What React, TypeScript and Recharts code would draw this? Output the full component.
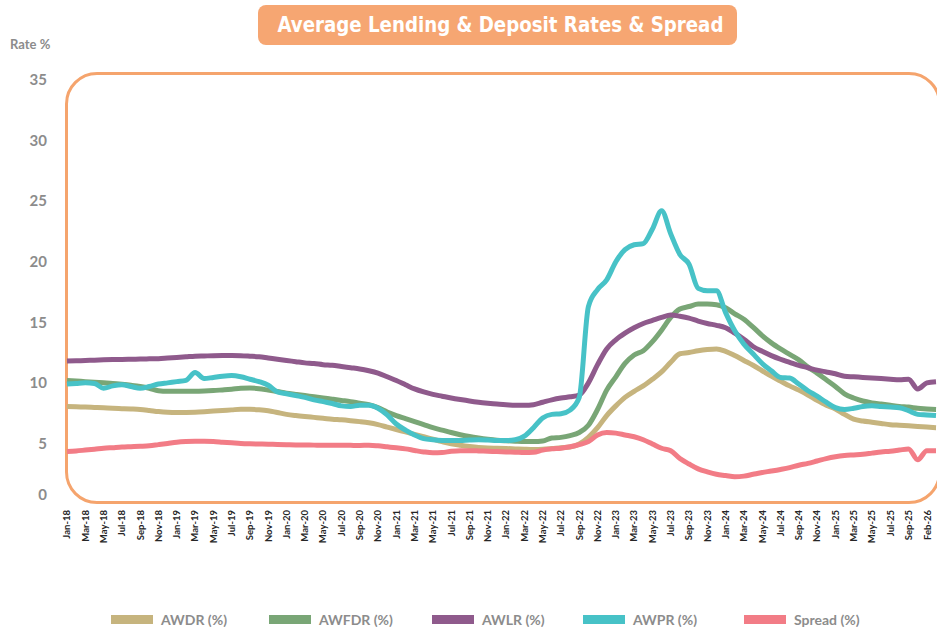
import { LineChart, Line, XAxis, YAxis } from "recharts";

const MONTHS = [
  "Jan-18", "Feb-18", "Mar-18", "Apr-18", "May-18", "Jun-18", "Jul-18", "Aug-18", "Sep-18", "Oct-18", "Nov-18", "Dec-18",
  "Jan-19", "Feb-19", "Mar-19", "Apr-19", "May-19", "Jun-19", "Jul-19", "Aug-19", "Sep-19", "Oct-19", "Nov-19", "Dec-19",
  "Jan-20", "Feb-20", "Mar-20", "Apr-20", "May-20", "Jun-20", "Jul-20", "Aug-20", "Sep-20", "Oct-20", "Nov-20", "Dec-20",
  "Jan-21", "Feb-21", "Mar-21", "Apr-21", "May-21", "Jun-21", "Jul-21", "Aug-21", "Sep-21", "Oct-21", "Nov-21", "Dec-21",
  "Jan-22", "Feb-22", "Mar-22", "Apr-22", "May-22", "Jun-22", "Jul-22", "Aug-22", "Sep-22", "Oct-22", "Nov-22", "Dec-22",
  "Jan-23", "Feb-23", "Mar-23", "Apr-23", "May-23", "Jun-23", "Jul-23", "Aug-23", "Sep-23", "Oct-23", "Nov-23", "Dec-23",
  "Jan-24", "Feb-24", "Mar-24", "Apr-24", "May-24", "Jun-24", "Jul-24", "Aug-24", "Sep-24", "Oct-24", "Nov-24", "Dec-24",
  "Jan-25", "Feb-25", "Mar-25", "Apr-25", "May-25", "Jun-25", "Jul-25", "Aug-25", "Sep-25", "Oct-25", "Nov-25", "Feb-26",
];

const X_TICKS = [
  "Jan-18", "Mar-18", "May-18", "Jul-18", "Sep-18", "Nov-18",
  "Jan-19", "Mar-19", "May-19", "Jul-19", "Sep-19", "Nov-19",
  "Jan-20", "Mar-20", "May-20", "Jul-20", "Sep-20", "Nov-20",
  "Jan-21", "Mar-21", "May-21", "Jul-21", "Sep-21", "Nov-21",
  "Jan-22", "Mar-22", "May-22", "Jul-22", "Sep-22", "Nov-22",
  "Jan-23", "Mar-23", "May-23", "Jul-23", "Sep-23", "Nov-23",
  "Jan-24", "Mar-24", "May-24", "Jul-24", "Sep-24", "Nov-24",
  "Jan-25", "Mar-25", "May-25", "Jul-25", "Sep-25", "Feb-26",
];

const Y_TICKS = [0, 5, 10, 15, 20, 25, 30, 35];

const AWDR = [
  8.05, 8.02, 8.0, 7.97, 7.94, 7.9, 7.87, 7.84, 7.8, 7.72, 7.63, 7.57,
  7.55, 7.56, 7.58, 7.62, 7.67, 7.72, 7.77, 7.82, 7.82, 7.78, 7.7, 7.55,
  7.4, 7.3, 7.22, 7.15, 7.08, 7.0, 6.95, 6.88, 6.8, 6.7, 6.55, 6.35,
  6.15, 5.95, 5.75, 5.55, 5.35, 5.15, 4.97, 4.85, 4.75, 4.67, 4.62, 4.6,
  4.58, 4.55, 4.52, 4.5, 4.52, 4.58, 4.65, 4.7, 4.95, 5.5, 6.3, 7.3,
  8.1, 8.8, 9.3, 9.75, 10.3, 10.9, 11.7, 12.4, 12.5, 12.65, 12.75, 12.8,
  12.6, 12.25, 11.85, 11.45, 11.0, 10.55, 10.15, 9.75, 9.4, 9.0, 8.55, 8.15,
  7.85, 7.4, 7.0, 6.85, 6.75, 6.65, 6.55, 6.5, 6.45, 6.4, 6.35, 6.3,
];

const AWFDR = [
  10.2, 10.15, 10.1, 10.05, 10.0, 9.95, 9.88, 9.8, 9.7, 9.55, 9.35, 9.3,
  9.3, 9.3, 9.3, 9.32, 9.36, 9.42, 9.48, 9.55, 9.58, 9.52, 9.4, 9.28,
  9.15, 9.05, 8.95, 8.85, 8.75, 8.65, 8.55, 8.45, 8.32, 8.2, 7.95, 7.6,
  7.3, 7.05, 6.8, 6.55, 6.3, 6.1, 5.9, 5.72, 5.57, 5.45, 5.35, 5.27,
  5.22, 5.18, 5.15, 5.15, 5.2, 5.45, 5.5, 5.65, 5.9, 6.5, 7.8, 9.4,
  10.5, 11.6, 12.3, 12.65, 13.4, 14.35, 15.4, 16.1, 16.3, 16.5, 16.5, 16.45,
  16.2, 15.7, 15.25, 14.6, 13.9, 13.3, 12.8, 12.35, 11.9, 11.3, 10.8, 10.25,
  9.7, 9.1, 8.75, 8.5, 8.35, 8.25, 8.15, 8.05, 8.0, 7.9, 7.85, 7.8,
];

const AWLR = [
  11.8, 11.82, 11.85, 11.87, 11.9, 11.92, 11.93, 11.95, 11.96, 11.98, 12.0, 12.05,
  12.1, 12.15, 12.2, 12.22, 12.24, 12.25, 12.25, 12.24, 12.2, 12.15, 12.05, 11.95,
  11.85, 11.75, 11.65, 11.6, 11.5, 11.45, 11.35, 11.25, 11.15, 11.0, 10.8, 10.5,
  10.2, 9.85, 9.5, 9.25, 9.05, 8.9, 8.75, 8.62, 8.5, 8.4, 8.32, 8.25,
  8.2, 8.15, 8.15, 8.2, 8.4, 8.6, 8.75, 8.85, 9.0, 10.0, 11.5, 12.8,
  13.55, 14.1, 14.55, 14.9, 15.15, 15.4, 15.6, 15.5, 15.35, 15.1, 14.9, 14.75,
  14.55, 14.1, 13.6, 13.0, 12.6, 12.25, 11.95, 11.7, 11.45, 11.25, 11.05, 10.9,
  10.75, 10.55, 10.5, 10.45, 10.4, 10.35, 10.3, 10.25, 10.3, 9.5, 10.0, 10.1,
];

const AWPR = [
  9.9, 9.95, 10.0, 9.95, 9.55, 9.75, 9.85, 9.7, 9.55, 9.7, 9.9, 10.0,
  10.1, 10.2, 10.85, 10.35, 10.45, 10.55, 10.6, 10.5, 10.3, 10.1, 9.8, 9.25,
  9.1, 8.95, 8.8, 8.6, 8.45, 8.3, 8.1, 8.05, 8.15, 8.15, 7.9, 7.35,
  6.6, 6.1, 5.7, 5.4, 5.3, 5.25, 5.24, 5.25, 5.28, 5.3, 5.28, 5.25,
  5.24, 5.3, 5.6, 6.3, 7.1, 7.4, 7.45, 7.75, 8.8, 16.3, 17.7, 18.5,
  20.0, 21.0, 21.4, 21.5, 22.7, 24.2, 22.3, 20.6, 19.8, 17.8, 17.6, 17.6,
  15.8, 14.3, 13.2, 12.4, 11.6, 11.0, 10.45, 10.4, 9.9, 9.35, 8.9, 8.4,
  7.95, 7.8, 7.9, 8.05, 8.1, 8.05, 8.0, 7.95, 7.7, 7.4, 7.35, 7.3,
];

const SPREAD = [
  4.33, 4.38, 4.45, 4.52, 4.6, 4.65, 4.7, 4.73, 4.76, 4.8, 4.9, 5.0,
  5.1, 5.15, 5.17, 5.17, 5.15, 5.1, 5.05, 5.0, 4.97, 4.95, 4.93, 4.92,
  4.9, 4.88, 4.87, 4.86, 4.85, 4.85, 4.85, 4.84, 4.83, 4.85, 4.8, 4.72,
  4.64, 4.55, 4.42, 4.3, 4.23, 4.25, 4.35, 4.4, 4.4, 4.38, 4.35, 4.33,
  4.3, 4.28, 4.25, 4.27, 4.45, 4.55, 4.6, 4.72, 4.9, 5.15, 5.7, 5.9,
  5.85, 5.7, 5.55, 5.3, 4.95, 4.6, 4.4, 3.75, 3.3, 2.9, 2.65, 2.45,
  2.35, 2.25, 2.3, 2.45, 2.6, 2.72, 2.85, 3.0, 3.2, 3.35, 3.55, 3.75,
  3.9, 4.0, 4.05, 4.1, 4.2, 4.3, 4.35, 4.45, 4.55, 3.65, 4.4, 4.4,
];

const SERIES = [
  { key: "awdr", name: "AWDR (%)", color: "#C6B47E" },
  { key: "awfdr", name: "AWFDR (%)", color: "#79A676" },
  { key: "awlr", name: "AWLR (%)", color: "#8F5A8C" },
  { key: "awpr", name: "AWPR (%)", color: "#47C2C7" },
  { key: "spread", name: "Spread (%)", color: "#F27C86" },
];

const LEGEND_X = [111, 269, 432, 583, 744];

const data = MONTHS.map((month, i) => ({
  month,
  awdr: AWDR[i],
  awfdr: AWFDR[i],
  awlr: AWLR[i],
  awpr: AWPR[i],
  spread: SPREAD[i],
}));

const FONT = "Lato, 'Open Sans', sans-serif";
const GRAY = "#8C8C8C";
const ORANGE = "#F5A46D";

function XTick({ x, y, payload }: any) {
  if (!X_TICKS.includes(payload.value)) return null;
  // keep the last label inside the picture
  const tx = Math.min(x, 928);
  return (
    <g transform={`translate(${tx},${y})`}>
      <text
        transform="rotate(-90)"
        x={-4}
        dy="0.35em"
        textAnchor="end"
        fontFamily={FONT}
        fontSize={9.5}
        fontWeight={700}
        fill="#262626"
      >
        {payload.value}
      </text>
    </g>
  );
}

function YTick({ x, y, payload }: any) {
  // the "0" label sits a little higher than the true zero in the original
  const shift = payload.value === 0 ? -9 : 0;
  return (
    <text
      x={x}
      y={y + shift}
      dy="0.35em"
      textAnchor="end"
      fontFamily={FONT}
      fontSize={15}
      fontWeight={700}
      fill={GRAY}
    >
      {payload.value}
    </text>
  );
}

export default function App() {
  return (
    <div
      style={{
        position: "absolute",
        left: 0,
        top: 0,
        width: 937,
        height: 627,
        overflow: "hidden",
        background: "#fff",
        fontFamily: FONT,
      }}
    >
      <div
        style={{
          position: "absolute",
          left: 258,
          top: 5,
          width: 479,
          height: 40,
          background: "#F6A672",
          borderRadius: 8,
          color: "#fff",
          fontFamily: "'Liberation Sans Narrow', 'DejaVu Sans Condensed', sans-serif",
          fontWeight: 700,
          fontSize: 22,
          lineHeight: "40px",
          textAlign: "center",
          whiteSpace: "nowrap",
          overflow: "hidden",
        }}
      >
        <span style={{ display: "inline-block", transform: "scaleX(0.92)" }}>
          Average Lending &amp; Deposit Rates &amp; Spread
        </span>
      </div>
      <div
        style={{
          position: "absolute",
          left: 10,
          top: 36,
          fontSize: 13,
          fontWeight: 700,
          color: GRAY,
        }}
      >
        Rate %
      </div>
      <div
        style={{
          position: "absolute",
          left: 65,
          top: 72,
          width: 876,
          height: 432,
          boxSizing: "border-box",
          border: `3px solid ${ORANGE}`,
          borderRadius: 32,
        }}
      />
      <div style={{ position: "absolute", left: 0, top: 0 }}>
        <LineChart
          width={937}
          height={627}
          data={data}
          margin={{ top: 80, right: 1, bottom: 83, left: 27 }}
        >
          <XAxis
            dataKey="month"
            interval={0}
            tick={<XTick />}
            tickLine={false}
            axisLine={false}
            tickSize={0}
            height={40}
          />
          <YAxis
            domain={[0, 35]}
            ticks={Y_TICKS}
            tick={<YTick />}
            tickLine={false}
            axisLine={false}
            tickSize={0}
            tickMargin={20}
            width={40}
          />
          {SERIES.map((s) => (
            <Line
              key={s.key}
              dataKey={s.key}
              name={s.name}
              stroke={s.color}
              strokeWidth={5}
              type="monotone"
              dot={false}
              isAnimationActive={false}
            />
          ))}
        </LineChart>
      </div>
      {SERIES.map((s, i) => (
        <div
          key={s.key}
          style={{
            position: "absolute",
            left: LEGEND_X[i],
            top: 610,
            height: 18,
            display: "flex",
            alignItems: "center",
            gap: 8,
          }}
        >
          <div style={{ width: 42, height: 9, background: s.color }} />
          <span style={{ fontSize: 14, fontWeight: 700, color: GRAY }}>{s.name}</span>
        </div>
      ))}
    </div>
  );
}
